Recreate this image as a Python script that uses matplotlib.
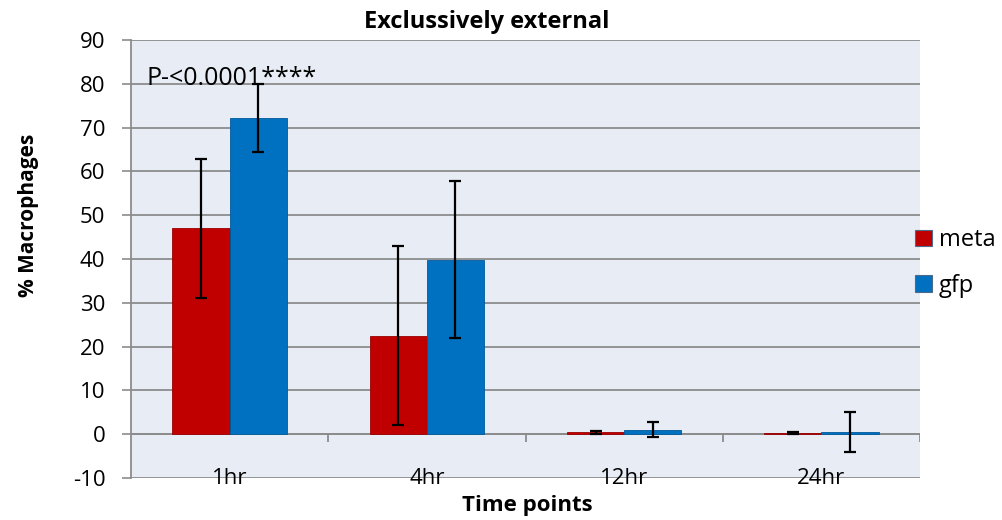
import numpy as np
import matplotlib
matplotlib.use("Agg")
import matplotlib.pyplot as plt
from matplotlib.patches import Patch

plt.rcParams['font.family'] = ['Open Sans', 'DejaVu Sans']
plt.rcParams['axes.unicode_minus'] = False

# data
time_points = ["1hr", "4hr", "12hr", "24hr"]
meta = [47.0, 22.5, 0.4, 0.2]
meta_err = [15.8, 20.5, 0.3, 0.2]
gfp = [72.2, 39.8, 1.0, 0.5]
gfp_err = [7.7, 17.9, 1.7, 4.5]
yticks = list(range(-10, 91, 10))

red = "#C00000"
blue = "#0070C0"
grid_col = "#8C8C8C"

fig = plt.figure(figsize=(10.02, 5.2), dpi=100)
ax = fig.add_axes([131/1002, 1 - 478/520, (920 - 131)/1002, (478 - 40)/520])
ax.set_facecolor("#E7ECF5")

x = np.arange(len(time_points))
w = 0.29
ax.bar(x - w/2, meta, w, color=red, edgecolor="#9A0000", linewidth=0.6, zorder=3)
ax.bar(x + w/2, gfp, w, color=blue, edgecolor="#005A9A", linewidth=0.6, zorder=3)
ax.errorbar(x - w/2, meta, yerr=meta_err, fmt="none", ecolor="black",
            elinewidth=1.6, capsize=4.3, capthick=1.6, zorder=4)
ax.errorbar(x + w/2, gfp, yerr=gfp_err, fmt="none", ecolor="black",
            elinewidth=1.6, capsize=4.3, capthick=1.6, zorder=4)

ax.set_xlim(-0.5, len(time_points) - 0.5)
ax.set_ylim(-10, 90)
ax.set_yticks(yticks)
ax.tick_params(axis="y", labelsize=16, length=6.5, width=1.2, color=grid_col, pad=12)
ax.yaxis.grid(True, color=grid_col, linewidth=1.3, zorder=0)
ax.set_axisbelow(True)
ax.set_xticks([])

for s in ["top", "right", "bottom"]:
    ax.spines[s].set_visible(False)
ax.spines["left"].set_color(grid_col)
ax.spines["left"].set_linewidth(1.3)

# category axis crossing at zero
ax.axhline(0, color=grid_col, linewidth=1.3, zorder=2)
bounds = np.arange(len(time_points) + 1) - 0.5
ax.vlines(bounds[1:], -1.8, 0, color=grid_col, linewidth=1.3, zorder=2)
for xi, lab in zip(x, time_points):
    ax.text(xi, -10, lab, ha="center", va="center", fontsize=16, zorder=1)

ax.text(0.02, 0.912, "P-<0.0001****", transform=ax.transAxes, fontsize=18,
        ha="left", va="center", zorder=5)

fig.text(0.486, 0.957, "Exclussively external", ha="center", va="center",
         fontsize=17, fontweight="bold")
fig.text(0.526, 0.027, "Time points", ha="center", va="center",
         fontsize=16, fontweight="bold")
fig.text(0.028, 0.585, "% Macrophages", ha="center", va="center",
         fontsize=15, fontweight="bold", rotation=90)

handles = [Patch(facecolor=red, edgecolor="#4F6A8A", linewidth=0.8),
           Patch(facecolor=blue, edgecolor="#4F6A8A", linewidth=0.8)]
fig.legend(handles, ["meta", "gfp"], loc="center left",
           bbox_to_anchor=(915/1002, 1 - 263/520), frameon=False, fontsize=17,
           handlelength=0.7, handleheight=0.7, handletextpad=0.3,
           labelspacing=0.9, borderpad=0, borderaxespad=0)

fig.savefig("out.png", dpi=100)
